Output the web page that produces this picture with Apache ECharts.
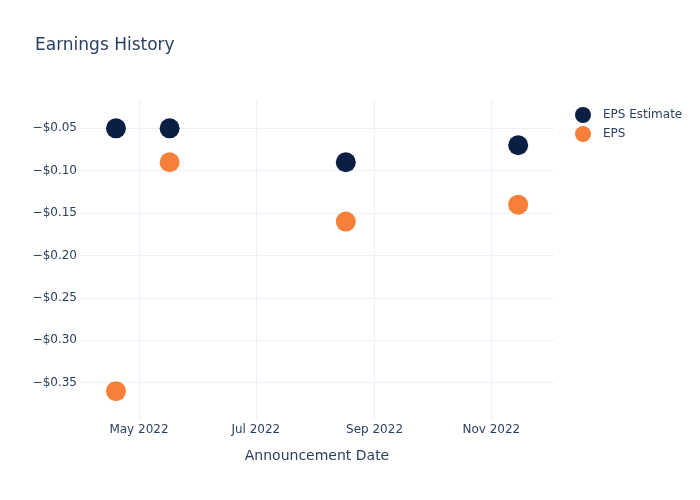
<!DOCTYPE html>
<html>
<head>
<meta charset="utf-8">
<script src="https://cdn.jsdelivr.net/npm/echarts@6/dist/echarts.min.js"></script>
<style>html,body{margin:0;padding:0;background:#fff}#c{width:700px;height:500px}</style>
</head>
<body>
<div id="c"></div>
<script>
// Data
const dates = ['2022-04-19', '2022-05-17', '2022-08-17', '2022-11-15'];
const epsEstimate = [-0.05, -0.05, -0.09, -0.07];
const eps = [-0.36, -0.09, -0.16, -0.14];
const yTicks = [-0.35, -0.30, -0.25, -0.20, -0.15, -0.10, -0.05];
const xTicks = ['2022-05-01', '2022-07-01', '2022-09-01', '2022-11-01'];
const xRange = ['2022-03-31T05:00:00Z', '2022-12-03T17:00:00Z'];
const yRange = [-0.394, -0.0166];

const ts = s => Date.parse(s.length === 10 ? s + 'T00:00:00Z' : s);
const months = ['Jan','Feb','Mar','Apr','May','Jun','Jul','Aug','Sep','Oct','Nov','Dec'];
const textColor = '#2a3f5f';
const gridColor = '#ebf0f8';
const font = '"DejaVu Sans", Verdana, sans-serif';

const chart = echarts.init(document.getElementById('c'), null, {renderer: 'canvas'});
const xTickVals = xTicks.map(ts);
chart.setOption({
  animation: false,
  backgroundColor: '#fff',
  textStyle: {fontFamily: font},
  title: {
    text: 'Earnings History', left: 30, top: 32,
    textStyle: {fontFamily: font, fontSize: 17, fontWeight: 'normal', color: textColor}
  },
  legend: {
    orient: 'vertical', left: 570, top: 102,
    itemWidth: 30, itemHeight: 16, itemGap: 3, icon: 'circle',
    textStyle: {fontFamily: font, fontSize: 12, color: textColor},
    data: ['EPS Estimate', 'EPS']
  },
  grid: {left: 80, right: 146, top: 100, bottom: 80, containLabel: false},
  xAxis: {
    type: 'value', min: ts(xRange[0]), max: ts(xRange[1]),
    name: 'Announcement Date', nameLocation: 'middle', nameGap: 29,
    nameTextStyle: {fontFamily: font, fontSize: 14, color: textColor},
    axisLine: {show: false}, axisTick: {show: false, customValues: xTickVals},
    axisLabel: {
      customValues: xTickVals, margin: 4, fontFamily: font, fontSize: 12, color: textColor,
      formatter: v => { const d = new Date(v); return months[d.getUTCMonth()] + ' ' + d.getUTCFullYear(); }
    },
    splitLine: {show: true, customValues: xTickVals, lineStyle: {color: gridColor, width: 1}}
  },
  yAxis: {
    type: 'value', min: yRange[0], max: yRange[1],
    axisLine: {show: false}, axisTick: {show: false, customValues: yTicks},
    axisLabel: {
      customValues: yTicks, margin: 3, fontFamily: font, fontSize: 12, color: textColor,
      formatter: v => (v < 0 ? '\u2212' : '') + '$' + Math.abs(v).toFixed(2)
    },
    splitLine: {show: true, customValues: yTicks, lineStyle: {color: gridColor, width: 1}}
  },
  series: [
    {
      name: 'EPS Estimate', type: 'scatter', symbolSize: 20,
      itemStyle: {color: '#0b1f44', opacity: 1},
      data: dates.map((d, i) => [ts(d), epsEstimate[i]])
    },
    {
      name: 'EPS', type: 'scatter', symbolSize: 20,
      itemStyle: {color: '#f6803a', opacity: 1},
      data: dates.map((d, i) => [ts(d), eps[i]])
    }
  ]
});
</script>
</body>
</html>
